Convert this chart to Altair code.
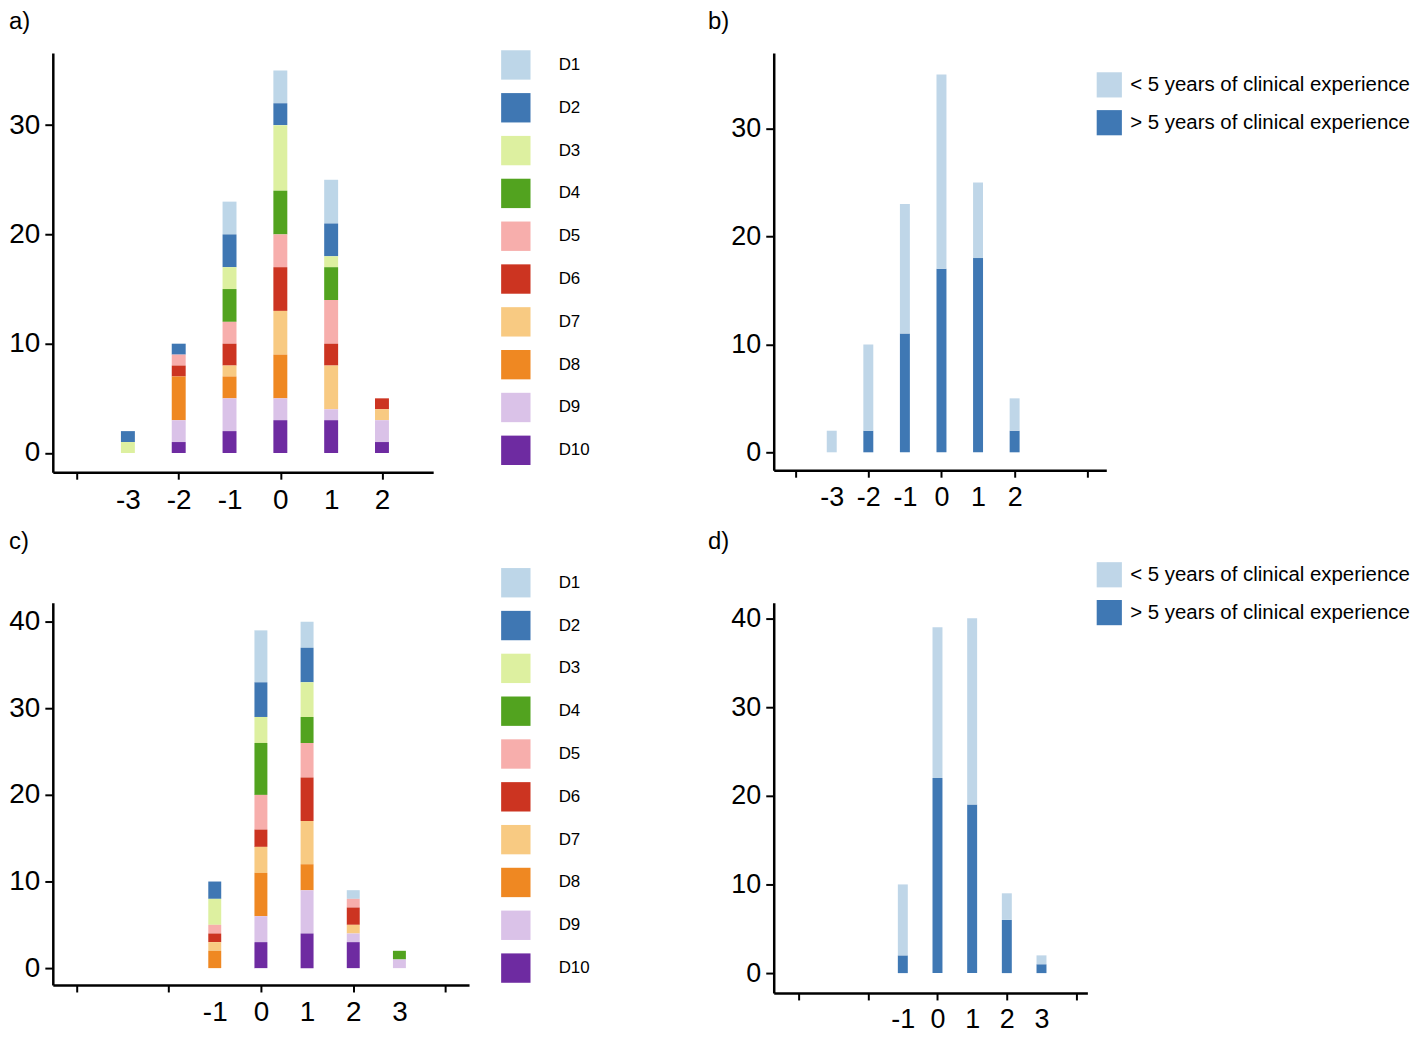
import altair as alt
import pandas as pd

# ---------------- data ----------------
doctors = ["D1", "D2", "D3", "D4", "D5", "D6", "D7", "D8", "D9", "D10"]
doctor_colors = ["#bdd6e8", "#3f77b3", "#ddf0a0", "#52a31f", "#f7aeac",
                 "#cc3421", "#f8ca82", "#ef8822", "#dac2e8", "#6e2ba1"]

exp_groups = ["< 5 years of clinical experience", "> 5 years of clinical experience"]
exp_colors = ["#bfd6e8", "#3f78b4"]

# panel a) scores and counts per doctor
scores_a = [-3, -2, -1, 0, 1, 2]
a_D1 = [0, 0, 3, 3, 4, 0]
a_D2 = [1, 1, 3, 2, 3, 0]
a_D3 = [1, 0, 2, 6, 1, 0]
a_D4 = [0, 0, 3, 4, 3, 0]
a_D5 = [0, 1, 2, 3, 4, 0]
a_D6 = [0, 1, 2, 4, 2, 1]
a_D7 = [0, 0, 1, 4, 4, 1]
a_D8 = [0, 4, 2, 4, 0, 0]
a_D9 = [0, 2, 3, 2, 1, 2]
a_D10 = [0, 1, 2, 3, 3, 1]

# panel b) experience groups
b_less5 = [2, 8, 12, 18, 7, 3]
b_more5 = [0, 2, 11, 17, 18, 2]

# panel c) scores and counts per doctor
scores_c = [-1, 0, 1, 2, 3]
c_D1 = [0, 6, 3, 1, 0]
c_D2 = [2, 4, 4, 0, 0]
c_D3 = [3, 3, 4, 0, 0]
c_D4 = [0, 6, 3, 0, 1]
c_D5 = [1, 4, 4, 1, 0]
c_D6 = [1, 2, 5, 2, 0]
c_D7 = [1, 3, 5, 1, 0]
c_D8 = [2, 5, 3, 0, 0]
c_D9 = [0, 3, 5, 1, 1]
c_D10 = [0, 3, 4, 3, 0]

# panel d) experience groups
d_less5 = [8, 17, 21, 3, 1]
d_more5 = [2, 22, 19, 6, 1]

a_series = [a_D1, a_D2, a_D3, a_D4, a_D5, a_D6, a_D7, a_D8, a_D9, a_D10]
c_series = [c_D1, c_D2, c_D3, c_D4, c_D5, c_D6, c_D7, c_D8, c_D9, c_D10]


def doctor_frame(scores, series):
    rows = []
    for i, (name, vals) in enumerate(zip(doctors, series)):
        for s, v in zip(scores, vals):
            if v > 0:
                rows.append({"score": s, "count": v, "group": name, "key": 9 - i})
    return pd.DataFrame(rows)


def exp_frame(scores, less, more):
    rows = []
    for s, v in zip(scores, more):
        if v > 0:
            rows.append({"score": s, "count": v, "group": exp_groups[1], "key": 0})
    for s, v in zip(scores, less):
        if v > 0:
            rows.append({"score": s, "count": v, "group": exp_groups[0], "key": 1})
    return pd.DataFrame(rows)


FONT = "Liberation Sans"


def panel(df, label, xdom, ydom, yticks, xticks, lab_lo, lab_hi, w, h, bar_w,
          groups, colors, legend, tick_size, title_dx, title_offset):
    x_axis = alt.Axis(
        values=xticks, title=None, grid=False,
        labelExpr=f"datum.value >= {lab_lo} && datum.value <= {lab_hi} ? ('' + datum.value) : ''",
        tickOpacity={"condition": {"test": "datum.value % 2 === 0", "value": 1}, "value": 0},
        domainColor="black", domainWidth=2.5, tickColor="black", tickWidth=2, tickSize=7,
        labelFont=FONT, labelFontSize=tick_size, labelColor="black", labelPadding=7,
        labelFlush=False, labelOverlap=False,
    )
    y_axis = alt.Axis(
        values=yticks, title=None, grid=False, format="d",
        domainColor="black", domainWidth=2.5, tickColor="black", tickWidth=2, tickSize=8,
        labelFont=FONT, labelFontSize=tick_size, labelColor="black", labelPadding=5,
        labelFlush=False,
    )
    return alt.Chart(
        df,
        title=alt.Title(label, anchor="start", frame="group", dx=title_dx, offset=title_offset,
                        fontSize=24, font=FONT, fontWeight="normal", color="black"),
    ).mark_bar(size=bar_w).encode(
        x=alt.X("score:Q", scale=alt.Scale(domain=xdom, nice=False, zero=False), axis=x_axis),
        y=alt.Y("count:Q", stack="zero", scale=alt.Scale(domain=ydom, nice=False, zero=False), axis=y_axis),
        color=alt.Color("group:N", scale=alt.Scale(domain=groups, range=colors), legend=legend),
        order=alt.Order("key:Q", sort="ascending"),
    ).properties(width=w, height=h)


def doctor_legend(ly):
    return alt.Legend(
        title=None, orient="none", legendX=450, legendY=ly, symbolType="square",
        symbolSize=870, symbolStrokeWidth=0, symbolOpacity=1, labelFont=FONT,
        labelFontSize=17, labelColor="black", labelOffset=28, rowPadding=13,
    )


def exp_legend(lx, ly):
    return alt.Legend(
        title=None, orient="none", legendX=lx, legendY=ly, symbolType="square",
        symbolSize=640, symbolStrokeWidth=0, symbolOpacity=1, labelFont=FONT,
        labelFontSize=20.5, labelColor="black", labelOffset=8, rowPadding=12, labelLimit=400,
    )


pa = panel(doctor_frame(scores_a, a_series), "a)", [-4.38, 2.91], [-1.76, 36.6], [0, 10, 20, 30],
           [-4, -3, -2, -1, 0, 1, 2], -3, 2, 382, 421, 14, doctors, doctor_colors,
           doctor_legend(-3), 28, -44, 16)
pb = panel(exp_frame(scores_a, b_less5, b_more5), "b)", [-4.45, 4.37], [-1.66, 37.0], [0, 10, 20, 30],
           [-4, -3, -2, -1, 0, 1, 2, 3, 4], -3, 2, 334, 419, 10, exp_groups, exp_colors,
           exp_legend(324, 19), 27, -66, 19)
pc = panel(doctor_frame(scores_c, c_series), "c)", [-4.4, 4.4], [-1.95, 42.2], [0, 10, 20, 30, 40],
           [-4, -3, -2, -1, 0, 1, 2, 3, 4], -1, 3, 418, 384, 13, doctors, doctor_colors,
           doctor_legend(-35), 28, -44, 14)
pd_ = panel(exp_frame(scores_c, d_less5, d_more5), "d)", [-4.58, 4.18], [-2.24, 41.77], [0, 10, 20, 30, 40],
            [-4, -3, -2, -1, 0, 1, 2, 3, 4], -1, 3, 315, 392, 10, exp_groups, exp_colors,
            exp_legend(324, -41), 27, -66, 8)

chart = alt.concat(
    pa, pb, pc, pd_, columns=2, spacing={"row": 131, "column": 306}, bounds="flush"
).resolve_scale(
    color="independent", x="independent", y="independent"
).resolve_legend(color="independent").properties(
    padding=0, background="white"
).configure_view(stroke=None)

chart.save("out.html", embed_options={"renderer": "svg", "actions": False})
